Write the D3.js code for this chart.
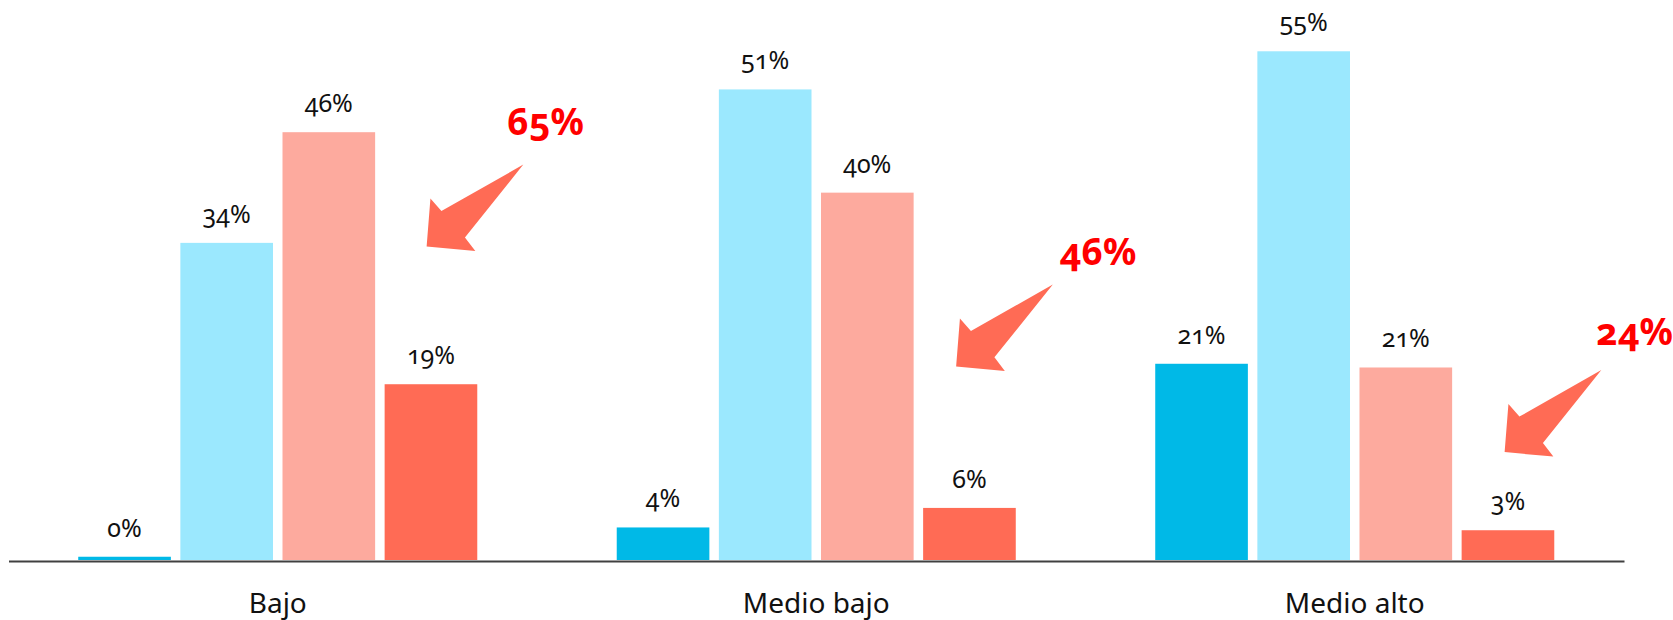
<!DOCTYPE html>
<html>
<head>
<meta charset="utf-8">
<script src="https://cdn.jsdelivr.net/npm/d3@7"></script>
<style>
  html, body { margin: 0; padding: 0; background: #fff; }
  svg { display: block; font-family: "Noto Sans", "Open Sans", sans-serif; }
  .val { font-variant-numeric: oldstyle-nums; }
  .callout { font-variant-numeric: oldstyle-nums; }
</style>
</head>
<body>
<svg id="chart" width="1673" height="620"></svg>
<script>
// ---- data ----
const categories = ["Bajo", "Medio bajo", "Medio alto"];
const seriesKeys = ["s0", "s1", "s2", "s3"];
const s0 = [0.35, 3.5, 21.1];
const s1 = [34.1, 50.6, 54.7];
const s2 = [46.0, 39.5, 20.7];
const s3 = [18.9, 5.6, 3.2];
const seriesColors = ["#00B9E7", "#9BE8FE", "#FDAA9E", "#FF6B55"];
// callout annotations (arrow tip height in % units, text baseline in % units)
const calloutTipValue = [33.7, 20.8, 11.6];
const calloutTextValue = [45.7, 31.7, 23.1];

const seriesValues = [s0, s1, s2, s3];
const rows = categories.map((c, i) => ({
  cat: c,
  vals: seriesKeys.map((k, j) => ({ key: k, idx: j, value: seriesValues[j][i] }))
}));

const svg = d3.select("#chart");

const x0 = d3.scaleBand().domain(categories).range([8.5, 1624])
  .paddingInner(0.259).paddingOuter(0.1295);
const x1 = d3.scaleBand().domain(seriesKeys).range([0, x0.bandwidth()])
  .paddingInner(0.093).paddingOuter(0);
const y = d3.scaleLinear().domain([0, 60]).range([560, 2]);
const color = d3.scaleOrdinal().domain(seriesKeys).range(seriesColors);
const fmt = v => d3.format(".0f")(v) + "%";

const groups = svg.append("g").selectAll("g").data(rows).join("g")
  .attr("transform", d => `translate(${x0(d.cat)},0)`);

groups.selectAll("rect").data(d => d.vals).join("rect")
  .attr("x", d => x1(d.key))
  .attr("y", d => y(d.value))
  .attr("width", x1.bandwidth())
  .attr("height", d => y(0) - y(d.value))
  .attr("fill", d => color(d.key));

groups.selectAll("text.val").data(d => d.vals).join("text")
  .attr("class", "val")
  .attr("x", d => x1(d.key) + x1.bandwidth() / 2)
  .attr("y", d => y(d.value) - 20)
  .attr("text-anchor", "middle")
  .attr("font-size", 25)
  .attr("fill", "#111")
  .text(d => fmt(d.value));

// x axis
const axis = svg.append("g")
  .attr("transform", `translate(0,${y(0) + 1})`)
  .call(d3.axisBottom(x0).tickSize(0).tickSizeOuter(0).tickPadding(32));
axis.select(".domain").attr("stroke", "#404040").attr("stroke-width", 2);
axis.selectAll(".tick text")
  .attr("font-size", 28)
  .attr("font-family", "\"Noto Sans\", \"Open Sans\", sans-serif")
  .attr("fill", "#111");

// callout arrows (shape relative to tip)
const arrowShape = [[96.7, -82], [14.8, -35.5], [3.8, -48], [0, 0], [48.7, 4.5], [38.3, -9.2]];
const arrowLine = d3.line();
const tipDx = [42, 33, 43];
const textDx = [161, 175, 173];

rows.forEach((r, i) => {
  const bx = x0(r.cat) + x1("s3");
  const tx = bx + tipDx[i], ty = y(calloutTipValue[i]);
  svg.append("path")
    .attr("d", arrowLine(arrowShape.map(p => [tx + p[0], ty + p[1]])) + "Z")
    .attr("fill", "#FF6B55");
  const total = Math.round(s2[i]) + Math.round(s3[i]);
  svg.append("text")
    .attr("class", "callout")
    .attr("x", bx + textDx[i])
    .attr("y", y(calloutTextValue[i]))
    .attr("text-anchor", "middle")
    .attr("font-size", 37)
    .attr("font-weight", "bold")
    .attr("fill", "#FF0000")
    .text(total + "%");
});
</script>
</body>
</html>
